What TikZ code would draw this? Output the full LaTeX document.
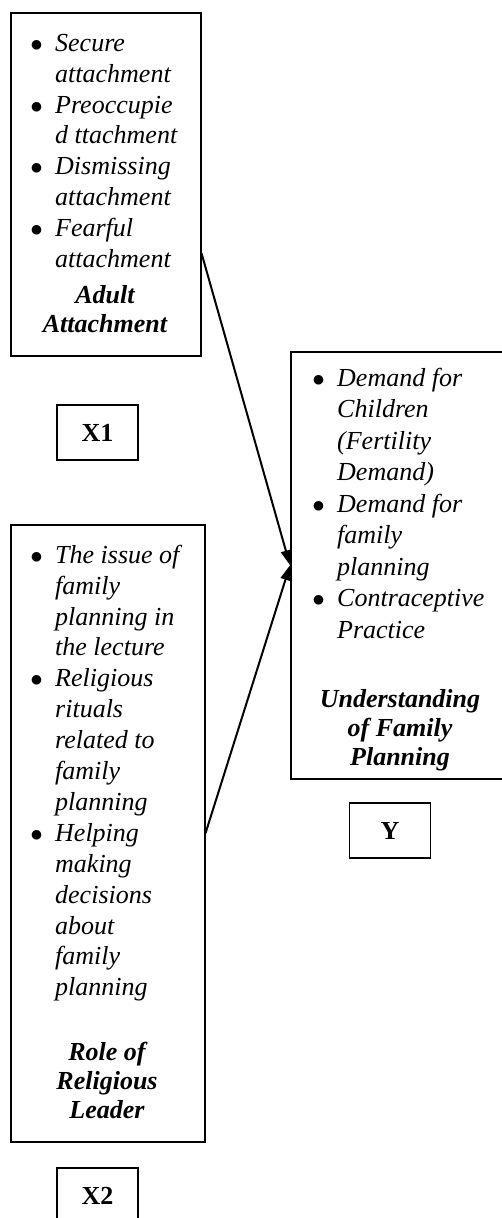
\documentclass[tikz,border=0pt]{standalone}
\usepackage{fontspec}
\setmainfont{Liberation Serif}
\usetikzlibrary{calc,arrows.meta}
\begin{document}
\begin{tikzpicture}[x=1pt,y=-1pt,
  frame/.style={draw, line width=1.5pt, inner sep=0pt, anchor=north west},
  body/.style={anchor=north west, inner sep=0pt, align=left,
    font=\fontsize{26}{30.9}\selectfont\itshape},
  heading/.style={anchor=north, inner sep=0pt, align=center,
    font=\fontsize{26}{29}\selectfont\bfseries\itshape},
  tag/.style={draw, line width=1.5pt, minimum width=81pt, minimum height=55pt,
    inner sep=0pt, font=\fontsize{26}{30}\selectfont\bfseries},
  link/.style={line width=2pt, -{Triangle[length=15pt,width=10pt]}}]
\newcommand{\bul}{\llap{$\bullet$\hspace{12.5pt}}}
\useasboundingbox (0,0) rectangle (501,1218);

% boxes
\node[frame, minimum width=190pt, minimum height=343pt] (box1) at (10,12) {};
\node[frame, minimum width=194pt, minimum height=617pt] (box2) at (10,524) {};
\node[frame, minimum width=212pt, minimum height=427pt] (boxY) at (290,351) {};

% box 1 text
\node[body] (t1) at (55,29.4) {\strut\bul Secure\\ attachment\\ \bul Preoccupie\\ d ttachment\\ \bul Dismissing\\ attachment\\ \bul Fearful\\ attachment};
\node[heading] (h1) at (105,283.4) {\strut Adult\\ Attachment};

% box 2 text
\node[body] (t2) at (55,541.4) {\strut\bul The issue of\\ family\\ planning in\\ the lecture\\ \bul Religious\\ rituals\\ related to\\ family\\ planning\\ \bul Helping\\ making\\ decisions\\ about\\ family\\ planning};
\node[heading] (h2) at (107,1039.7) {\strut Role of\\ Religious\\ Leader};

% box Y text
\node[body, font=\fontsize{26}{31.5}\selectfont\itshape] (tY) at (337,364) {\strut\bul Demand for\\ Children\\ (Fertility\\ Demand)\\ \bul Demand for\\ family\\ planning\\ \bul Contraceptive\\ Practice};
\node[heading] (hY) at (400,686.7) {\strut Understanding\\ of Family\\ Planning};

% tags
\node[tag] (x1) at (97.5,432.5) {X1};
\node[tag] (y) at (390,830.5) {Y};
\node[tag] (x2) at (97.5,1195.5) {X2};

% connectors
\draw[link] ($(box1.north east)!0.70!(box1.south east)$) -- (boxY.west);
\draw[link] (box2.east) -- (boxY.west);
\end{tikzpicture}
\end{document}
